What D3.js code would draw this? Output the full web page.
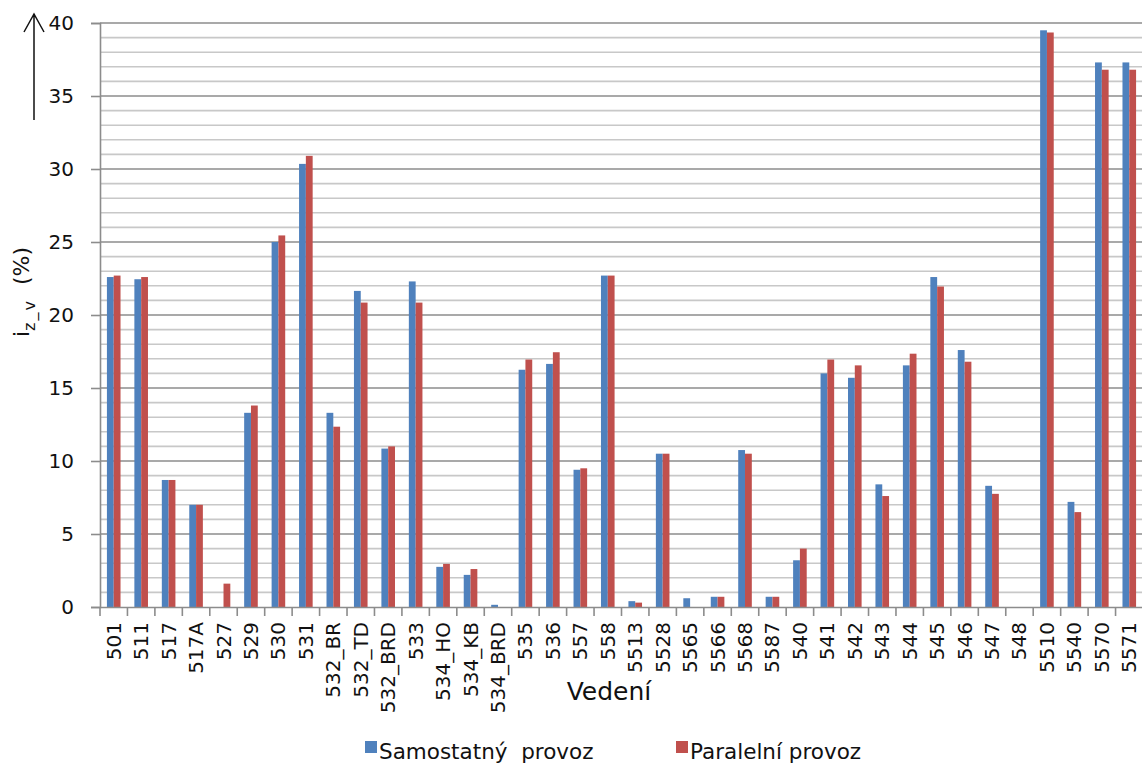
<!DOCTYPE html>
<html>
<head>
<meta charset="utf-8">
<script src="https://cdn.jsdelivr.net/npm/d3@7"></script>
<style>
  body { margin: 0; background: #fff; }
  text { font-family: "DejaVu Sans", Verdana, sans-serif; fill: #111; }
</style>
</head>
<body>
<script>
// data
let categories = ["501","511","517","517A","527","529","530","531","532_BR","532_TD","532_BRD","533",
  "534_HO","534_KB","534_BRD","535","536","557","558","5513","5528","5565","5566","5568","5587",
  "540","541","542","543","544","545","546","547","548","5510","5540","5570","5571"]
let samostatny = [22.6,22.45,8.7,7.0,0,13.3,25.0,30.35,13.3,21.65,10.85,22.3,
  2.75,2.2,0.15,16.25,16.65,9.4,22.7,0.4,10.5,0.6,0.7,10.75,0.7,
  3.2,16.0,15.7,8.4,16.55,22.6,17.6,8.3,0,39.5,7.2,37.3,37.3]
let paralelni = [22.7,22.6,8.7,7.0,1.6,13.8,25.45,30.9,12.35,20.85,11.0,20.85,
  2.95,2.6,0,16.95,17.45,9.5,22.7,0.3,10.5,0,0.7,10.5,0.7,
  4.0,16.95,16.55,7.6,17.35,21.95,16.8,7.75,0,39.35,6.5,36.8,36.8]
let yTicks = [0,5,10,15,20,25,30,35,40]
let seriesNames = ["Samostatný  provoz","Paralelní provoz"]
let colors = ["#4F81BD","#C0504D"]

let width = 1142, height = 764
let padding = {left: 100, right: 1143, top: 23, bottom: 607}

let svg = d3.select("body").append("svg")
  .attr("width", width).attr("height", height)

let x = d3.scaleBand().domain(categories).range([padding.left, padding.right])
let y = d3.scaleLinear().domain([0, 40]).range([padding.bottom, padding.top])

// gridlines (every 1, darker every 5)
svg.append("g").selectAll("line")
  .data(d3.range(1, 41))
  .enter().append("line")
  .attr("x1", padding.left).attr("x2", width)
  .attr("y1", d => y(d)).attr("y2", d => y(d))
  .attr("stroke", d => d % 5 == 0 ? "#8c8c8c" : "#c8c8c8")
  .attr("stroke-width", 1.6)

// bars
let inner = d3.scaleBand().domain([0, 1]).range([0, 13.6])
let off = (x.bandwidth() - 13.6) / 2
let series = [samostatny, paralelni]
series.forEach(function(vals, s) {
  svg.append("g").selectAll("rect")
    .data(vals)
    .enter().append("rect")
    .attr("x", (d, i) => x(categories[i]) + off + inner(s))
    .attr("y", d => y(d))
    .attr("width", inner.bandwidth())
    .attr("height", d => padding.bottom - y(d))
    .attr("fill", colors[s])
})

// y axis
let yAxis = d3.axisLeft(y).tickValues(yTicks).tickSize(9).tickPadding(17)
let gy = svg.append("g").attr("transform", "translate(" + padding.left + ",0)").call(yAxis)
gy.select(".domain").attr("stroke", "#8c8c8c").attr("stroke-width", 1.6)
gy.selectAll(".tick line").attr("stroke", "#8c8c8c").attr("stroke-width", 1.6)
gy.selectAll("text").style("font-size", "20px").attr("fill", "#111")

// x axis
let xAxis = d3.axisBottom(x).tickSize(0).tickPadding(0)
let gx = svg.append("g").attr("transform", "translate(0," + padding.bottom + ")").call(xAxis)
gx.select(".domain").attr("stroke", "#8c8c8c").attr("stroke-width", 1.6)
gx.selectAll(".tick text")
  .style("font-size", "20px").attr("fill", "#111")
  .attr("text-anchor", "end")
  .attr("transform", "rotate(-90)")
  .attr("x", -15).attr("y", 0).attr("dy", "0.35em")
// band boundary ticks
svg.append("g").selectAll("line")
  .data(categories)
  .enter().append("line")
  .attr("x1", d => x(d)).attr("x2", d => x(d))
  .attr("y1", padding.bottom).attr("y2", padding.bottom + 9)
  .attr("stroke", "#8c8c8c").attr("stroke-width", 1.6)

// axis titles
svg.append("text").attr("x", 609).attr("y", 700)
  .attr("text-anchor", "middle").style("font-size", "25px").text("Vedení")

let yl = svg.append("text")
  .attr("transform", "translate(29,292) rotate(-90)")
  .attr("text-anchor", "middle").style("font-size", "22px")
  .style("white-space", "pre")
yl.append("tspan").text("i")
yl.append("tspan").attr("dy", 6).style("font-size", "16px")
  .style("letter-spacing", "2px").text("z_v")
yl.append("tspan").attr("dy", -6).text("  (%)")

// arrow
svg.append("path")
  .attr("d", "M34,120 L34,14 M24,32 L34,14 L44,32")
  .attr("fill", "none").attr("stroke", "#111").attr("stroke-width", 1.5)

// legend
let legendX = [365, 676]
seriesNames.forEach(function(n, s) {
  svg.append("rect").attr("x", legendX[s]).attr("y", 741)
    .attr("width", 12).attr("height", 12).attr("fill", colors[s])
  svg.append("text").attr("x", legendX[s] + 14).attr("y", 759)
    .style("font-size", "21.5px").style("white-space", "pre").text(n)
})
</script>
</body>
</html>
